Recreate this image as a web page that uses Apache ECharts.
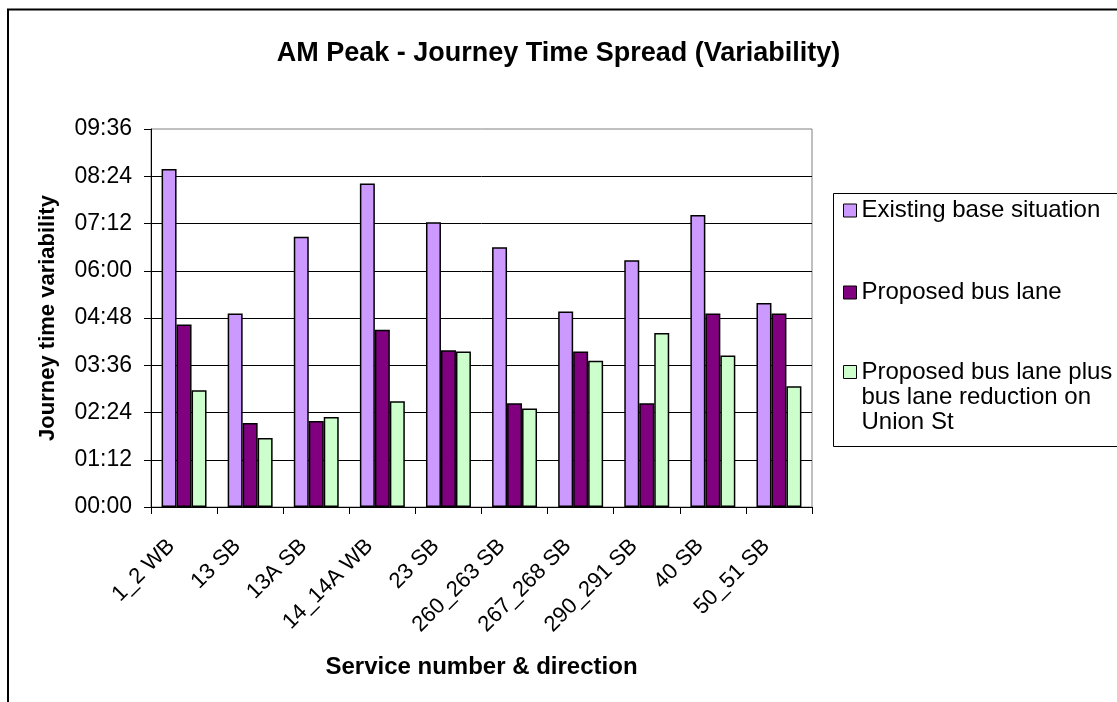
<!DOCTYPE html>
<html>
<head>
<meta charset="utf-8">
<script src="https://cdn.jsdelivr.net/npm/echarts@6/dist/echarts.min.js"></script>
<style>
  html, body { margin: 0; padding: 0; background: #ffffff; }
  #chart { width: 1117px; height: 702px; }
</style>
</head>
<body>
<div id="chart"></div>
<script>
// Service routes and direction
const categories = ['1_2 WB', '13 SB', '13A SB', '14_14A WB', '23 SB',
                    '260_263 SB', '267_268 SB', '290_291 SB', '40 SB', '50_51 SB'];

// Journey time spread per service (mm:ss)
const existingBase = ['08:35', '04:55', '06:52', '08:13', '07:14',
                      '06:36', '04:58', '06:16', '07:25', '05:11'];
const proposedLane = ['04:38', '02:08', '02:11', '04:30', '03:59',
                      '02:38', '03:57', '02:38', '04:55', '04:55'];
const proposedLanePlusReduction = ['02:58', '01:45', '02:17', '02:41', '03:57',
                                   '02:30', '03:43', '04:25', '03:51', '03:04'];

const seriesNames = ['Existing base situation', 'Proposed bus lane',
                     'Proposed bus lane plus bus lane reduction on Union St'];

// Value axis ticks (mm:ss)
const yTickLabels = ['00:00', '01:12', '02:24', '03:36', '04:48',
                     '06:00', '07:12', '08:24', '09:36'];

const toSeconds = s => { const [m, sec] = s.split(':').map(Number); return m * 60 + sec; };
const pad2 = n => String(n).padStart(2, '0');
const toLabel = v => pad2(Math.floor(v / 60)) + ':' + pad2(Math.round(v % 60));

const FONT = '"Liberation Sans", Arial, sans-serif';
const colors = ['#CC99FF', '#800080', '#CCFFCC'];
const dataSets = [existingBase, proposedLane, proposedLanePlusReduction];

const yMin = toSeconds(yTickLabels[0]);
const yMax = toSeconds(yTickLabels[yTickLabels.length - 1]);
const yStep = toSeconds(yTickLabels[1]) - yMin;

const legendBase = {
  orient: 'vertical',
  left: 843,
  padding: 0,
  icon: 'rect',
  itemWidth: 13,
  itemHeight: 13,
  itemStyle: { borderColor: '#000', borderWidth: 1 },
  textStyle: { fontFamily: FONT, fontSize: 24, lineHeight: 25, color: '#000' }
};

const chart = echarts.init(document.getElementById('chart'), null, { renderer: 'canvas' });
chart.setOption({
  animation: false,
  backgroundColor: '#ffffff',
  title: {
    text: 'AM Peak - Journey Time Spread (Variability)',
    left: 'center',
    top: 35,
    textStyle: { fontFamily: FONT, fontSize: 27, fontWeight: 'bold', color: '#000' }
  },
  graphic: [
    {
      type: 'rect', z: 0, silent: true,
      shape: { x: 8, y: 9.5, width: 1200, height: 800 },
      style: { fill: 'none', stroke: '#000', lineWidth: 2 }
    },
    {
      type: 'rect', z: 0, silent: true,
      shape: { x: 833.5, y: 193.5, width: 300, height: 253 },
      style: { fill: 'none', stroke: '#000', lineWidth: 1 }
    }
  ],
  legend: [
    Object.assign({}, legendBase, { top: 198, data: [seriesNames[0]] }),
    Object.assign({}, legendBase, { top: 280, data: [seriesNames[1]] }),
    Object.assign({}, legendBase, {
      top: 309.5, data: [seriesNames[2]],
      formatter: () => '\n\nProposed bus lane plus\nbus lane reduction on\nUnion St'
    })
  ],
  grid: {
    left: 151, right: 305, top: 129, bottom: 195,
    show: true, borderColor: '#808080', borderWidth: 1,
    backgroundColor: 'transparent'
  },
  xAxis: {
    type: 'category',
    data: categories,
    name: 'Service number & direction',
    nameLocation: 'middle',
    nameGap: 148,
    nameTextStyle: { fontFamily: FONT, fontSize: 24, fontWeight: 'bold', color: '#000' },
    axisLine: { lineStyle: { color: '#000', width: 1 } },
    axisTick: { show: true, length: 7, lineStyle: { color: '#000' } },
    axisLabel: {
      rotate: 45, margin: 23, padding: [0, 18, 0, 0],
      fontFamily: FONT, fontSize: 22, color: '#000', interval: 0
    }
  },
  yAxis: {
    type: 'value',
    min: yMin, max: yMax, interval: yStep,
    name: 'Journey time variability',
    nameLocation: 'middle',
    nameGap: 92,
    nameRotate: 90,
    nameTextStyle: { fontFamily: FONT, fontSize: 22, fontWeight: 'bold', color: '#000' },
    axisLine: { show: true, lineStyle: { color: '#000', width: 1 } },
    axisTick: { show: true, length: 7, lineStyle: { color: '#000' } },
    axisLabel: { margin: 19, fontFamily: FONT, fontSize: 23, color: '#000', formatter: toLabel },
    splitLine: { show: true, showMinLine: false, showMaxLine: false, lineStyle: { color: '#000', width: 1 } }
  },
  series: dataSets.map((arr, i) => ({
    type: 'bar',
    name: seriesNames[i],
    data: arr.map(toSeconds),
    barGap: '0%',
    barCategoryGap: '32%',
    itemStyle: { color: colors[i], borderColor: '#000', borderWidth: 1.5 }
  }))
});
</script>
</body>
</html>
